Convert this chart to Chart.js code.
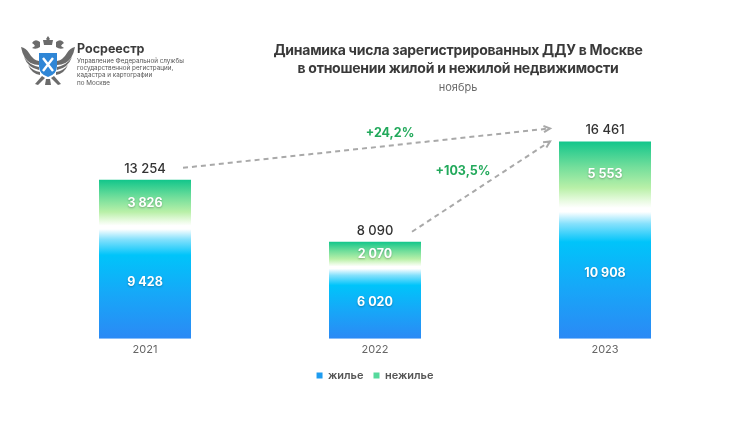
<!DOCTYPE html>
<html lang="ru">
<head>
<meta charset="utf-8">
<title>Динамика числа зарегистрированных ДДУ в Москве</title>
<script src="https://cdn.jsdelivr.net/npm/chart.js@4/dist/chart.umd.min.js"></script>
<style>
  html, body { margin: 0; padding: 0; background: #fff; }
  .wrap { position: relative; width: 750px; height: 422px; overflow: hidden; font-family: Inter, 'Noto Sans', sans-serif; }
  #chart { position: absolute; left: 0; top: 0; }
  .logo { position: absolute; left: 20px; top: 33px; width: 56px; height: 56px; }
  .brand { position: absolute; left: 77px; top: 41px; font-size: 12.5px; font-weight: 700; color: #3c3c3c; }
  .brand-sub { position: absolute; left: 77px; top: 58px; font-size: 6.3px; line-height: 7.2px; color: #555; }
  .title { position: absolute; left: 236px; width: 444px; top: 41px; text-align: center; font-size: 14px; line-height: 18px; font-weight: 700; color: #3a3a3a; letter-spacing: -0.25px; }
  .month { position: absolute; left: 236px; width: 444px; top: 80px; text-align: center; font-size: 11px; color: #6a6a6a; }
</style>
</head>
<body>
<div class="wrap">
  <canvas id="chart" width="750" height="422"></canvas>

  <!-- emblem, simplified -->
  <svg class="logo" viewBox="0 0 56 56">
    <g fill="#6b6b6b">
      <path d="M28 3 l2 3 -2 2 -2 -2z"/>
      <path d="M23 7 h10 l-1 5 h-8z"/>
      <path d="M20 9 q-5 -4 -8 1 q2 1 3 3 l-3 2 q4 2 8 -1z"/>
      <path d="M36 9 q5 -4 8 1 q-2 1 -3 3 l3 2 q-4 2 -8 -1z"/>
      <path d="M1 14 q5 1 8 6 q4 7 10 8 v4 q-9 0 -14 -7 q-3 -5 -4 -11z"/>
      <path d="M55 14 q-5 1 -8 6 q-4 7 -10 8 v4 q9 0 14 -7 q3 -5 4 -11z"/>
      <path d="M4 24 q5 8 15 10 v3 q-11 -2 -15 -13z"/>
      <path d="M52 24 q-5 8 -15 10 v3 q11 -2 15 -13z"/>
      <path d="M8 32 q5 6 12 7 v3 q-8 -1 -12 -10z"/>
      <path d="M48 32 q-5 6 -12 7 v3 q8 -1 12 -10z"/>
      <path d="M22 43 l-7 8 3 1 7 -7z"/>
      <path d="M34 43 l7 8 -3 1 -7 -7z"/>
      <path d="M26 46 h4 l1 6 h-6z"/>
    </g>
    <path d="M19 20 h18 v13 q0 8 -9 11 q-9 -3 -9 -11z" fill="#2f86d6"/>
    <path d="M23 25 l10 13 M33 25 l-10 13" stroke="#fff" stroke-width="2.4"/>
  </svg>
  <div class="brand">Росреестр</div>
  <div class="brand-sub">Управление Федеральной службы<br>государственной регистрации,<br>кадастра и картографии<br>по Москве</div>

  <div class="title">Динамика числа зарегистрированных ДДУ в Москве<br>в отношении жилой и нежилой недвижимости</div>
  <div class="month">ноябрь</div>
</div>

<script>
'use strict';

/* ---- DATA ------------------------------------------------- */
const years = ['2021', '2022', '2023'];
const living = [9428, 6020, 10908];      // жилье
const nonLiving = [3826, 2070, 5553];    // нежилье
const totals = [13254, 8090, 16461];
const growthLabels = ['+24,2%', '+103,5%'];
const seriesNames = ['жилье', 'нежилье'];

/* ---- STYLE ------------------------------------------------ */
const FONT = 'Inter';
const legendColors = ['#1e9cf0', '#56d99c'];
const blueStops = [[0, '#2b89f5'], [0.4, '#16a8f8'], [0.74, '#00c4fa'], [0.88, '#86e1fc'], [0.97, '#ffffff'], [1, '#ffffff']];
const greenStops = [[0, '#ffffff'], [0.1, '#eafbe3'], [0.3, '#b9f0a8'], [0.62, '#72de9b'], [1, '#12c68b']];

const fmt = n => Number(n).toLocaleString('ru-RU').replace(/\s/g, ' ');

function segmentFill(stops, lowVals, highVals, fallback) {
  return (c) => {
    const chart = c.chart;
    if (!chart.chartArea || c.type !== 'data') return fallback;
    const y = chart.scales.y;
    const i = c.dataIndex;
    const bottom = y.getPixelForValue(lowVals ? lowVals[i] : 0);
    const top = y.getPixelForValue(highVals[i]);
    const g = chart.ctx.createLinearGradient(0, bottom, 0, top);
    stops.forEach(([p, col]) => g.addColorStop(p, col));
    return g;
  };
}

/* ---- LABELS PLUGIN ---------------------------------------- */
const labelPlugin = {
  id: 'barLabels',
  afterDatasetsDraw(chart) {
    const { ctx } = chart;
    ctx.save();
    ctx.textAlign = 'center';
    ctx.textBaseline = 'middle';

    // values inside segments
    chart.data.datasets.forEach((ds, di) => {
      chart.getDatasetMeta(di).data.forEach((el, i) => {
        ctx.font = `700 12.5px ${FONT}`;
        ctx.shadowColor = 'rgba(0,0,0,0.28)';
        ctx.shadowBlur = 2;
        ctx.shadowOffsetY = 1;
        ctx.fillStyle = '#fff';
        ctx.fillText(fmt(ds.data[i]), el.x, (el.y + el.base) / 2);
      });
    });

    // totals above bars
    ctx.shadowColor = 'transparent';
    ctx.font = `500 13px ${FONT}`;
    ctx.fillStyle = '#333';
    chart.getDatasetMeta(1).data.forEach((el, i) => ctx.fillText(fmt(totals[i]), el.x, el.y - 11));
    ctx.restore();
  }
};

/* ---- GROWTH ARROWS PLUGIN --------------------------------- */
function arrow(ctx, x1, y1, x2, y2) {
  ctx.setLineDash([5, 4]);
  ctx.beginPath();
  ctx.moveTo(x1, y1);
  ctx.lineTo(x2, y2);
  ctx.stroke();
  ctx.setLineDash([]);
  const a = Math.atan2(y2 - y1, x2 - x1);
  ctx.beginPath();
  ctx.moveTo(x2 - 7 * Math.cos(a - 0.45), y2 - 7 * Math.sin(a - 0.45));
  ctx.lineTo(x2, y2);
  ctx.lineTo(x2 - 7 * Math.cos(a + 0.45), y2 - 7 * Math.sin(a + 0.45));
  ctx.stroke();
}

const arrowPlugin = {
  id: 'growthArrows',
  afterDatasetsDraw(chart) {
    const { ctx } = chart;
    const els = chart.getDatasetMeta(1).data;
    ctx.save();
    ctx.strokeStyle = '#a9a9a9';
    ctx.lineWidth = 2;
    const endX = els[2].x - 55;
    arrow(ctx, els[0].x + 38, els[0].y - 12, endX, els[2].y - 13);
    arrow(ctx, els[1].x + 37, els[1].y - 10, endX, els[2].y);

    ctx.fillStyle = '#22a95b';
    ctx.font = `700 12.5px ${FONT}`;
    ctx.textAlign = 'center';
    ctx.textBaseline = 'middle';
    ctx.fillText(growthLabels[0], (els[0].x + els[2].x) / 2 + 15, els[2].y - 8);
    ctx.fillText(growthLabels[1], (els[1].x + els[2].x) / 2 - 27, els[2].y + 30);
    ctx.restore();
  }
};

/* ---- CHART ------------------------------------------------ */
new Chart(document.getElementById('chart'), {
  type: 'bar',
  data: {
    labels: years,
    datasets: [
      {
        label: seriesNames[0],
        data: living,
        backgroundColor: segmentFill(blueStops, null, living, legendColors[0]),
        borderWidth: 0,
        barPercentage: 0.8,
        categoryPercentage: 0.5
      },
      {
        label: seriesNames[1],
        data: nonLiving,
        backgroundColor: segmentFill(greenStops, living, totals, legendColors[1]),
        borderWidth: 0,
        barPercentage: 0.8,
        categoryPercentage: 0.5
      }
    ]
  },
  options: {
    responsive: false,
    animation: false,
    layout: { padding: { left: 30, right: 30, top: 99, bottom: 31 } },
    scales: {
      x: {
        stacked: true,
        grid: { display: false, drawTicks: false },
        border: { display: false },
        // small lineHeight keeps the axis band short so bars reach y≈340
        ticks: { color: '#666', font: { family: FONT, size: 11, lineHeight: 0.3 }, padding: 9 }
      },
      y: {
        stacked: true,
        display: false,
        min: 0,
        max: 20000
      }
    },
    plugins: {
      legend: {
        position: 'bottom',
        labels: {
          usePointStyle: true,
          pointStyle: 'rect',
          boxWidth: 6,
          boxHeight: 6,
          padding: 10,
          color: '#555',
          font: { family: FONT, size: 11, weight: '600' },
          generateLabels: chart => chart.data.datasets.map((ds, i) => ({
            text: ds.label,
            fillStyle: legendColors[i],
            strokeStyle: legendColors[i],
            lineWidth: 0,
            pointStyle: 'rect',
            hidden: false,
            datasetIndex: i,
            fontColor: '#555'
          }))
        }
      },
      tooltip: { enabled: false }
    }
  },
  plugins: [labelPlugin, arrowPlugin]
});
</script>
</body>
</html>
